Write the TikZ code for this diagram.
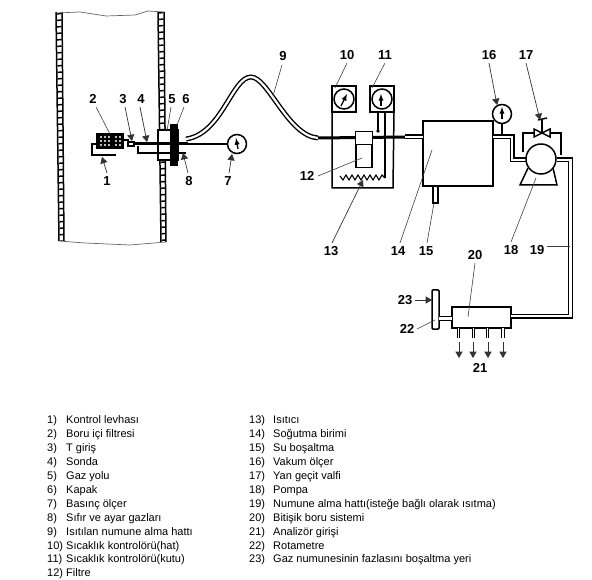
\documentclass[tikz,border=0pt]{standalone}
\usepackage{fontspec}
\setmainfont{Liberation Sans}
\usetikzlibrary{arrows,calc}
\begin{document}
\begin{tikzpicture} [
       x=1pt, y=-1pt,
       auto,
       wallside/.style={draw, line width=1.5pt},
       wallrung/.style={draw, line width=4.5pt, dash pattern=on 1.5pt off 5pt},
       box/.style={draw, line width=1.5pt, fill=white, inner sep=0pt, outer sep=0pt},
       gauge/.style={circle, draw, line width=1.5pt, fill=white, inner sep=0pt, minimum size=19pt},
       number/.style={font=\fontsize{13}{13}\selectfont\bfseries, inner sep=0pt},
       legend/.style={font=\fontsize{11}{13.9}\selectfont, inner sep=0pt, anchor=north west, align=left},
       line/.style={draw, line width=1.5pt},
       heavy/.style={draw, line width=3pt},
       tube/.style={draw, line width=1.4pt, double=white, double distance=2.2pt, line join=miter},
       outlet/.style={tube, double distance=1.5pt, line width=1pt},
       leader/.style={draw, line width=0.6pt, black!75},
       pointer/.style={draw, line width=0.7pt, black!80, -triangle 60},
       needle/.style={draw, line width=1.3pt, -latex},
       node distance=38pt,
       ]
       \useasboundingbox (0,0) rectangle (592,580);
       \path[wallrung] (59,13) -- (62,241);
       \path[wallrung] (161,12) -- (164,242);
       \path[wallside] (56,12) -- (59,241);
       \path[wallside] (62,12) -- (64,241);
       \path[wallside] (158,12) -- (161,242);
       \path[wallside] (164,12) -- (166,242);
       \draw[black!60, line width=0.7pt] (56,13) -- (80,12) -- (106,16) -- (135,15) -- (148,11) -- (164,12);
       \draw[black!60, line width=0.7pt] (59,241) -- (85,243) -- (130,245) -- (166,242);

       \node (filterin) [box, fill=black, minimum width=26pt, minimum height=14pt] at (110,141) {};
       \foreach \px in {101,105,109,116,120}
           \foreach \py in {137,141,145}
               \fill[white] (\px,\py) circle (1.1pt);
       \coordinate (platea) at (116,155);
       \coordinate (plateb) at (92,155);
       \coordinate (platec) at (92,144);
       \path[line] (platea) -- (plateb) -- (platec) -- (filterin.west |- platec);

       \node (teebox) [box, minimum width=6pt, minimum height=4pt] at (131,144) {};
       \node (flange) [box, minimum width=20pt, minimum height=30pt] at (168,145) {};
       \node (cap) [box, fill=black, minimum width=7pt, minimum height=40pt] at (174,145) {};
       \fill[white] (161,132) rectangle (170,136);
       \fill[white] (161,154) rectangle (170,158);
       \coordinate (probeend) at (188,144);
       \coordinate (zeroa) at (138,146);
       \coordinate (zerob) at (138,153);
       \coordinate (zeroc) at (186,153);
       \path[line] (filterin.east |- 0,140) -- (128,140) -- (teebox.north west);
       \path[heavy] (teebox.east) -- (probeend);
       \path[line] (zeroa) -- (zerob) -- (zeroc);

       \node (press) [gauge] at (237,144) {};
       \path[line] (probeend) -- (press.west);
       \path[needle] (238,149) -- (236,138);

       \coordinate (linestart) at (186,139);
       \coordinate (lineend) at (318,138);
       \path[tube] (linestart) .. controls (222,134) and (232,77) .. (251,77)
             .. controls (268,77) and (288,136) .. (lineend);

       \node (tempa) [box, minimum width=24pt, minimum height=26pt] at (344,99) {};
       \node (tempb) [box, right of=tempa, minimum width=24pt, minimum height=26pt] {};
       \node (dialb) [gauge, minimum size=20pt] at (tempb) {};
       \node (diala) [gauge, minimum size=20pt] at (tempa) {};
       \path[needle] (341,106) -- (347,94);
       \path[needle] (381,106) -- (381,94);
       \coordinate (boxa) at (332,188);
       \coordinate (boxb) at (393,188);
       \path[line] (tempa.south west) -- (boxa) -- (boxb) -- (tempb.south east);

       \node (cooler) [box, minimum width=70pt, minimum height=65pt] at (458,153.5) {};
       \path[heavy] (lineend) -- (405,137);
       \coordinate (coolerin) at (405,137);
       \path[tube] (coolerin) -- (cooler.west |- coolerin);

       \node (filtertop) [box, minimum width=17pt, minimum height=13pt] at (364,138) {};
       \node (filterlow) [box, minimum width=16pt, minimum height=23pt, below of=filtertop, node distance=18pt] {};
       \coordinate (wirea) at (378,112);
       \coordinate (wireb) at (378,131);
       \path[line] (wirea) -- (wireb);
       \fill (wireb) circle (1.8pt);
       \coordinate (wirec) at (385,112);
       \coordinate (wired) at (385,178);
       \coordinate (heatend) at (340,176);
       \path[line] (wirec) -- (wired);
       \path[draw, line width=1.1pt] (wired) -- (382,175) -- (379,180) -- (376,175) -- (373,180) -- (370,175) -- (367,180)
             -- (364,175) -- (361,180) -- (358,175) -- (355,180) -- (352,175) -- (349,180) -- (346,175) -- (343,180) -- (heatend);

       \node (drain) [box, minimum width=5pt, minimum height=17pt] at (435.5,194.5) {};

       \node (vacuum) [gauge] at (502,114) {};
       \path[needle] (502,119) -- (502,107);
       \path[line] (vacuum.south) -- (502,136);
       \coordinate (outa) at (493,137);
       \coordinate (outb) at (512,137);
       \coordinate (outc) at (512,160);
       \coordinate (outd) at (527,160);
       \path[tube] (outa) -- (outb) -- (outc) -- (outd);

       \path[line] (528,168) -- (520,185) -- (557,185) -- (553,168);
       \node (pump) [gauge, minimum size=30pt] at (541,159) {};
       \coordinate (passa) at (523,152);
       \coordinate (passb) at (523,133);
       \coordinate (passc) at (561,133);
       \coordinate (passd) at (561,155);
       \path[line] (passa) -- (passb) -- (passc) -- (passd);
       \coordinate (valve) at (542,133);
       \path[line, fill=white] (valve) -- (534,129) -- (534,137) -- cycle;
       \path[line, fill=white] (valve) -- (550,129) -- (550,137) -- cycle;
       \coordinate (handle) at (542,120);
       \path[line] (valve) -- (handle);
       \path[line] (538,120) -- (547,118);

       \node (manifold) [box, minimum width=59pt, minimum height=21pt] at (481.5,317.5) {};
       \node (rota) [box, rounded corners=1pt, minimum width=7pt, minimum height=39pt] at (435.5,309.5) {};
       \coordinate (sampa) at (557,160);
       \coordinate (sampb) at (570.5,160);
       \coordinate (sampc) at (570.5,316);
       \path[tube] (sampa) -- (sampb) -- (sampc) -- (manifold.east |- sampc);
       \path[tube] (rota.east |- 0,318.5) -- (manifold.west |- 0,318.5);

       \path[outlet] (458.5,328) -- (458.5,338);
       \path[outlet] (473.5,328) -- (473.5,338);
       \path[outlet] (487.5,328) -- (487.5,338);
       \path[outlet] (503,328) -- (503,338);

       \node (a1) [number] at (107,181) {1};
       \node (a2) [number] at (93,99) {2};
       \node (a3) [number] at (123,99) {3};
       \node (a4) [number] at (141,99) {4};
       \node (a5) [number] at (172,99) {5};
       \node (a6) [number] at (186,99) {6};
       \node (a7) [number] at (228,181) {7};
       \node (a8) [number] at (189,181) {8};
       \node (a9) [number] at (283,56) {9};
       \node (a10) [number] at (347,55) {10};
       \node (a11) [number] at (385,55) {11};
       \node (a12) [number] at (307,176) {12};
       \node (a13) [number] at (331,251) {13};
       \node (a14) [number] at (398,251) {14};
       \node (a15) [number] at (426,251) {15};
       \node (a16) [number] at (489,55) {16};
       \node (a17) [number] at (526,55) {17};
       \node (a18) [number] at (511,250) {18};
       \node (a19) [number] at (537,250) {19};
       \node (a20) [number] at (475,255) {20};
       \node (a21) [number] at (480,368) {21};
       \node (a22) [number] at (407,329) {22};
       \node (a23) [number] at (405,300) {23};

       \coordinate (p1) at (102,157);
       \coordinate (p2) at (110,134);
       \coordinate (p3) at (132,141);
       \coordinate (p4) at (147,142);
       \coordinate (p5) at (167,131);
       \coordinate (p6) at (177,125);
       \coordinate (p7) at (232,154);
       \coordinate (p8) at (183,153);
       \coordinate (p9) at (273,96);
       \coordinate (p10) at (335,88);
       \coordinate (p11) at (372,88);
       \coordinate (p12) at (362,158);
       \coordinate (p13) at (363,180);
       \coordinate (p14) at (432,150);
       \coordinate (p15) at (434,203);
       \coordinate (p16) at (497,105);
       \coordinate (p17) at (540,120);
       \coordinate (p18) at (536,178);
       \coordinate (p19) at (570,246);
       \coordinate (p20) at (468,317);
       \coordinate (p22) at (435,320);
       \coordinate (p23) at (432,300);
       \begin{scope}[every path/.style=leader]
       \path (a2) ++(3,8) -- (p2);
       \path (a5) ++(-1,8) -- (p5);
       \path (a6) ++(-2,8) -- (p6);
       \path (a9) ++(-1,9) -- (p9);
       \path (a10) ++(0,8) -- (p10);
       \path (a11) ++(0,8) -- (p11);
       \path (a12) ++(11,0) -- (p12);
       \path (a14) ++(2,-8) -- (p14);
       \path (a15) ++(1,-8) -- (p15);
       \path (a18) ++(0,-8) -- (p18);
       \path (a19) ++(10,-4) -- (p19);
       \path (a20) ++(0,8) -- (p20);
       \path (a22) ++(10,0) -- (p22);
       \end{scope}
       \begin{scope}[every path/.style=pointer]
       \path (a1) ++(0,-8) -- (p1);
       \path (a3) ++(2,8) -- (p3);
       \path (a4) ++(-1,8) -- (p4);
       \path (a7) ++(1,-8) -- (p7);
       \path (a8) ++(-1,-8) -- (p8);
       \path (a13) ++(1,-8) -- (p13);
       \path (a16) ++(0,8) -- (p16);
       \path (a17) ++(0,8) -- (p17);
       \path (a23) ++(10,0) -- (p23);
       \end{scope}

       \coordinate (outlet1) at (459,342);
       \coordinate (outlet2) at (473,342);
       \coordinate (outlet3) at (488,342);
       \coordinate (outlet4) at (503,342);
       \coordinate (exit1) at (459,358);
       \coordinate (exit2) at (473,358);
       \coordinate (exit3) at (488,358);
       \coordinate (exit4) at (503,358);
       \begin{scope}[every path/.style=pointer]
       \path (outlet1) -- (exit1);
       \path (outlet2) -- (exit2);
       \path (outlet3) -- (exit3);
       \path (outlet4) -- (exit4);
       \end{scope}

       \node (listleft) [legend] at (47,414) {\begin{tabular}{@{}p{19pt}@{}l@{}}
           1) & Kontrol levhası\\
           2) & Boru içi filtresi\\
           3) & T giriş\\
           4) & Sonda\\
           5) & Gaz yolu\\
           6) & Kapak\\
           7) & Basınç ölçer\\
           8) & Sıfır ve ayar gazları\\
           9) & Isıtılan numune alma hattı\\
           10) & Sıcaklık kontrolörü(hat)\\
           11) & Sıcaklık kontrolörü(kutu)\\
           12) & Filtre
           \end{tabular}};
       \node (listright) [legend] at (249,414) {\begin{tabular}{@{}p{24pt}@{}l@{}}
           13) & Isıtıcı\\
           14) & Soğutma birimi\\
           15) & Su boşaltma\\
           16) & Vakum ölçer\\
           17) & Yan geçit valfi\\
           18) & Pompa\\
           19) & Numune alma hattı(isteğe bağlı olarak ısıtma)\\
           20) & Bitişik boru sistemi\\
           21) & Analizör girişi\\
           22) & Rotametre\\
           23) & Gaz numunesinin fazlasını boşaltma yeri
           \end{tabular}};
\end{tikzpicture}
\end{document}
